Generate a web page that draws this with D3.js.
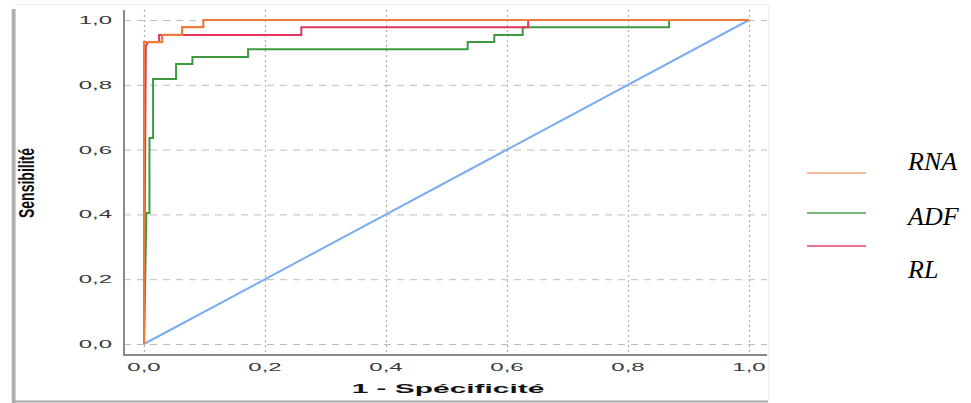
<!DOCTYPE html>
<html>
<head>
<meta charset="utf-8">
<script src="https://cdn.jsdelivr.net/npm/d3@7"></script>
<style>
  html, body { margin: 0; padding: 0; background: #fff; }
  svg { display: block; }
</style>
</head>
<body>
<svg id="chart" width="971" height="403"></svg>
<script>
// ---- data ----
const tickValues = [0, 0.2, 0.4, 0.6, 0.8, 1.0];
const tickLabels = ["0,0", "0,2", "0,4", "0,6", "0,8", "1,0"];
const seriesNames = ["RNA", "ADF", "RL"];

const rnaFpr = [0, 0, 0.030, 0.030, 0.063, 0.063, 0.098, 0.098, 1];
const rnaTpr = [0, 0.932, 0.932, 0.954, 0.954, 0.978, 0.978, 1, 1];

const adfFpr = [0, 0.004, 0.009, 0.009, 0.015, 0.015, 0.053, 0.053, 0.080, 0.080, 0.172, 0.172, 0.535, 0.535, 0.579, 0.579, 0.626, 0.626, 0.868, 0.868, 1];
const adfTpr = [0, 0.404, 0.404, 0.636, 0.636, 0.818, 0.818, 0.864, 0.864, 0.886, 0.886, 0.910, 0.910, 0.932, 0.932, 0.954, 0.954, 0.978, 0.978, 1, 1];

const rlFpr = [0, 0.003, 0.007, 0.025, 0.025, 0.260, 0.260, 0.635, 0.635, 1];
const rlTpr = [0, 0.920, 0.932, 0.932, 0.954, 0.954, 0.978, 0.978, 1, 1];

const refFpr = [0, 1];
const refTpr = [0, 1];

// ---- drawing ----
const svg = d3.select("#chart");
const x = d3.scaleLinear().domain([0, 1]).range([144, 749]);
const y = d3.scaleLinear().domain([0, 1]).range([344, 20]);

// image frame (shadowed edge of the pasted figure)
const defs = svg.append("defs");
const grad = defs.append("linearGradient").attr("id", "edge").attr("x1", 0).attr("x2", 1);
grad.append("stop").attr("offset", 0).attr("stop-color", "#ffffff");
grad.append("stop").attr("offset", 0.4).attr("stop-color", "#9a9a9a");
grad.append("stop").attr("offset", 1).attr("stop-color", "#d8d8d8");
svg.append("rect").attr("x", 11).attr("y", 9).attr("width", 5).attr("height", 394).attr("fill", "url(#edge)");
svg.append("line").attr("x1", 14).attr("x2", 768).attr("y1", 401.5).attr("y2", 401.5)
  .attr("stroke", "#a8a8a8").attr("stroke-width", 2);
svg.append("line").attr("x1", 14).attr("x2", 768).attr("y1", 4.5).attr("y2", 4.5)
  .attr("stroke", "#f2f2f2").attr("stroke-width", 1);
svg.append("line").attr("x1", 768.5).attr("x2", 768.5).attr("y1", 5).attr("y2", 401)
  .attr("stroke", "#f0f0f0").attr("stroke-width", 1);

// gridlines
const plotLeft = 124, plotRight = 767, plotTop = 10, plotBottom = 355;
svg.append("g").selectAll("line").data(tickValues).join("line")
  .attr("x1", plotLeft).attr("x2", plotRight)
  .attr("y1", d => y(d) + 0.5).attr("y2", d => y(d) + 0.5)
  .attr("stroke", "#bdbdbd").attr("stroke-width", 1)
  .attr("stroke-dasharray", "7,6");
svg.append("g").selectAll("line").data(tickValues).join("line")
  .attr("x1", d => x(d) + 0.5).attr("x2", d => x(d) + 0.5)
  .attr("y1", plotTop).attr("y2", plotBottom)
  .attr("stroke", "#b0b0b0").attr("stroke-width", 1.2)
  .attr("stroke-dasharray", "2,3");

// axes lines
svg.append("line").attr("x1", plotLeft).attr("x2", plotLeft).attr("y1", plotTop).attr("y2", plotBottom + 1)
  .attr("stroke", "#8a8a8a").attr("stroke-width", 2);
svg.append("line").attr("x1", plotLeft).attr("x2", plotRight).attr("y1", plotBottom).attr("y2", plotBottom)
  .attr("stroke", "#8a8a8a").attr("stroke-width", 2);

// tick labels (figure is stretched horizontally, so text is scaled in x)
const SX = 2.4;
svg.append("g").selectAll("text").data(tickValues).join("text")
  .attr("transform", d => `translate(112,${y(d) + 4}) scale(${SX},1)`)
  .attr("text-anchor", "end")
  .attr("font-family", "Liberation Sans, Arial, sans-serif")
  .attr("font-size", 10).attr("fill", "#383838")
  .text((d, i) => tickLabels[i]);
svg.append("g").selectAll("text").data(tickValues).join("text")
  .attr("transform", d => `translate(${x(d)},371) scale(${SX},1)`)
  .attr("text-anchor", "middle")
  .attr("font-family", "Liberation Sans, Arial, sans-serif")
  .attr("font-size", 10).attr("fill", "#383838")
  .text((d, i) => tickLabels[i]);

// axis titles
svg.append("text")
  .attr("transform", "translate(448,393) scale(2.3,1)")
  .attr("text-anchor", "middle")
  .attr("font-family", "Liberation Sans, Arial, sans-serif")
  .attr("font-weight", "bold").attr("font-size", 13).attr("fill", "#111")
  .text("1 - Spécificité");
svg.append("text")
  .attr("transform", "translate(34,183) scale(1.55,1) rotate(-90)")
  .attr("text-anchor", "middle")
  .attr("font-family", "Liberation Sans Narrow, Liberation Sans, Arial, sans-serif")
  .attr("font-weight", "bold").attr("font-size", 14).attr("fill", "#111")
  .text("Sensibilité");

// curves
const line = d3.line().x(d => x(d[0])).y(d => y(d[1]));
const zip = (a, b) => a.map((v, i) => [v, b[i]]);
const series = [
  { fpr: refFpr, tpr: refTpr, color: "#7aaef0", w: 2 },
  { fpr: adfFpr, tpr: adfTpr, color: "#3f9a3f", w: 2 },
  { fpr: rlFpr, tpr: rlTpr, color: "#e2365e", w: 2 },
  { fpr: rnaFpr, tpr: rnaTpr, color: "#ee7a3c", w: 2.2 }
];
svg.append("g").selectAll("path").data(series).join("path")
  .attr("d", s => line(zip(s.fpr, s.tpr)))
  .attr("fill", "none")
  .attr("stroke", s => s.color)
  .attr("stroke-width", s => s.w)
  .attr("stroke-linejoin", "miter");

// legend
const legendLineColors = ["#f6a67c", "#4f9f4f", "#e2436a"];
const legendLineY = [173, 213, 246];
const legendTextY = [170, 225, 278];
const lg = svg.append("g");
lg.selectAll("line").data(seriesNames).join("line")
  .attr("x1", 807).attr("x2", 866)
  .attr("y1", (d, i) => legendLineY[i]).attr("y2", (d, i) => legendLineY[i])
  .attr("stroke", (d, i) => legendLineColors[i]).attr("stroke-width", 1.6);
lg.selectAll("text").data(seriesNames).join("text")
  .attr("x", 908).attr("y", (d, i) => legendTextY[i])
  .attr("font-family", "Liberation Serif, Times New Roman, serif")
  .attr("font-style", "italic").attr("font-size", 26).attr("fill", "#000")
  .text(d => d);
</script>
</body>
</html>
